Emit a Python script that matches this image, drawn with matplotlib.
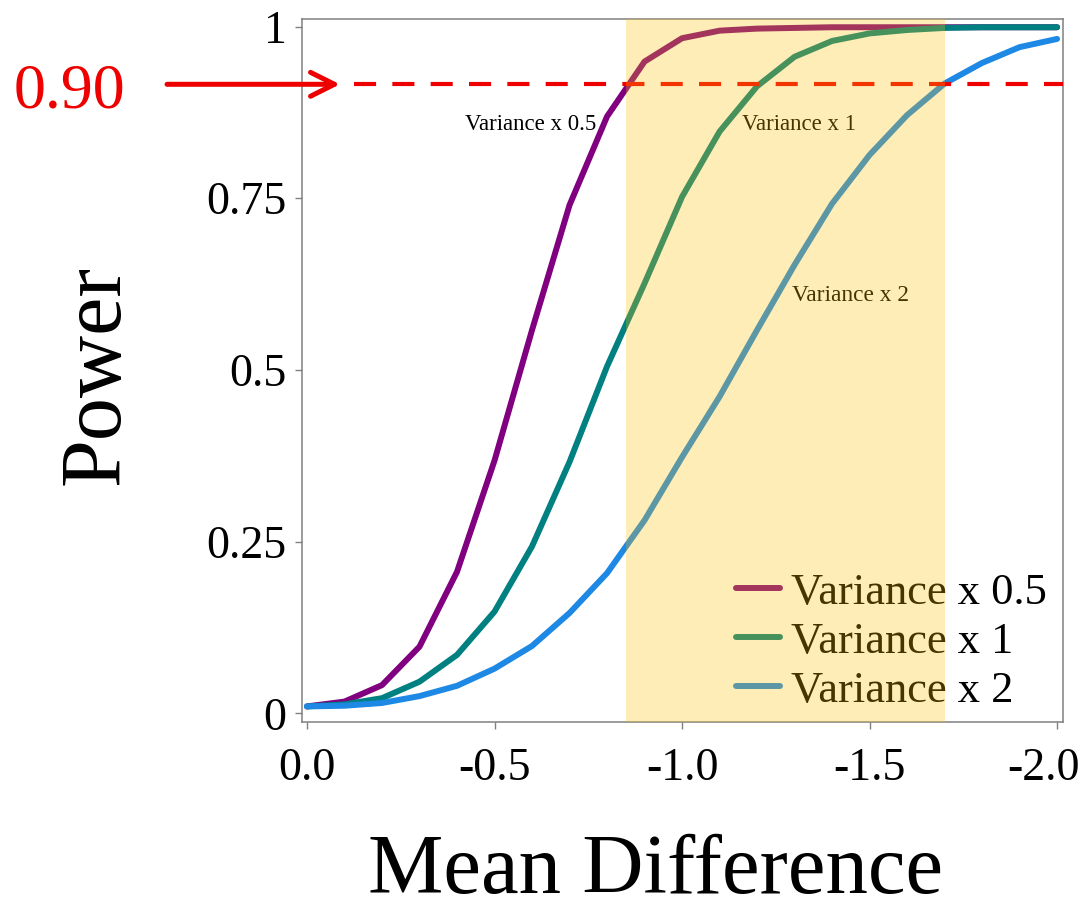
import matplotlib
matplotlib.use("Agg")
import matplotlib.pyplot as plt
from matplotlib.transforms import offset_copy

# ---- data ----
mean_diff = [0.0, -0.1, -0.2, -0.3, -0.4, -0.5, -0.6, -0.7, -0.8, -0.9, -1.0,
             -1.1, -1.2, -1.3, -1.4, -1.5, -1.6, -1.7, -1.8, -1.9, -2.0]
power_var05 = [0.010, 0.017, 0.041, 0.097, 0.206, 0.368, 0.558, 0.740, 0.869, 0.949, 0.983,
               0.994, 0.997, 0.998, 0.999, 0.999, 0.999, 0.999, 0.999, 0.999, 0.999]
power_var1 = [0.010, 0.013, 0.022, 0.046, 0.085, 0.148, 0.243, 0.366, 0.505, 0.626, 0.752,
              0.847, 0.913, 0.956, 0.979, 0.990, 0.995, 0.998, 0.999, 0.999, 0.999]
power_var2 = [0.010, 0.011, 0.015, 0.025, 0.040, 0.065, 0.098, 0.146, 0.204, 0.281, 0.373,
              0.461, 0.558, 0.653, 0.742, 0.813, 0.871, 0.917, 0.947, 0.970, 0.982]
series_labels = ["Variance x 0.5", "Variance x 1", "Variance x 2"]
target_power = 0.917
target_label = "0.90"
shade_range = (-0.85, -1.7)
x_ticks = [0.0, -0.5, -1.0, -1.5, -2.0]
x_tick_labels = ["0.0", "-0.5", "-1.0", "-1.5", "-2.0"]
y_ticks = [0, 0.25, 0.5, 0.75, 1]
y_tick_labels = ["0", "0.25", "0.5", "0.75", "1"]

plt.rcParams['font.family'] = ['Liberation Serif', 'DejaVu Serif']

W, H = 1085, 922
fig = plt.figure(figsize=(W / 100, H / 100), dpi=100)
ax_w = 1062.7 - 302
ax = fig.add_axes([302 / W, 1 - 722 / H, ax_w / W, (722 - 19) / H])

colors = ['#800080', '#008080', '#1E88E5']
lw = 4.3
for y, c, lab in zip([power_var05, power_var1, power_var2], colors, series_labels):
    ax.plot(mean_diff, y, color=c, lw=lw, label=lab, solid_capstyle='round', zorder=3)

ax.set_xlim(0.0133, -2.015)
ax.set_ylim(-0.0127, 1.011)

# dashed target line
ax.axhline(target_power, xmin=(354 - 302) / ax_w, xmax=1.0, color='#EE0000',
           lw=3.0, linestyle=(0, (5.3, 3.9)), zorder=4)

# inline labels
ax.text(-0.595, 0.858, series_labels[0], fontsize=16.5, ha='center', va='center', color='black')
ax.text(-1.311, 0.858, series_labels[1], fontsize=16.5, ha='center', va='center', color='black')
ax.text(-1.448, 0.609, series_labels[2], fontsize=16.8, ha='center', va='center', color='black')

ax.set_xticks(x_ticks)
ax.set_xticklabels(x_tick_labels)
ax.set_yticks(y_ticks)
ax.set_yticklabels(y_tick_labels)
ax.tick_params(axis='both', labelsize=33, length=5, width=1, color='#808080', direction='out')
ax.tick_params(axis='x', pad=13)
ax.tick_params(axis='y', pad=6)
for s in ax.spines.values():
    s.set_color('#808080')
    s.set_linewidth(1.1)

last = ax.get_xticklabels()[-1]
last.set_transform(offset_copy(last.get_transform(), fig=fig, x=-14, y=0, units='dots'))

leg = ax.legend(loc='lower right', bbox_to_anchor=(1 - 5 / ax_w, 0), frameon=False, fontsize=32,
                handlelength=0.98, handletextpad=0.25, labelspacing=0.2,
                borderaxespad=0.2, borderpad=0.05)

# overlay shaded band (on top, tints everything beneath)
ax.axvspan(shade_range[0], shade_range[1], color='#FFC000', alpha=0.28, lw=0, zorder=10)

# labels
fig.text(98 / W, 1 - 375 / H, "Power", fontsize=62, rotation=90, ha='center', va='center')
fig.text(656 / W, 1 - 872 / H, "Mean Difference", fontsize=61, ha='center', va='center')
fig.text(69 / W, 1 - 107 / H, target_label, fontsize=46, color='#EE0000', ha='center', va='baseline')

fig.patches.append(matplotlib.patches.FancyArrowPatch(
    (167, H - 84.3), (340, H - 84.3), transform=None, arrowstyle='->', mutation_scale=43,
    color='#EE0000', lw=3.6, shrinkA=0, shrinkB=0))

fig.savefig("out.png", dpi=100)
